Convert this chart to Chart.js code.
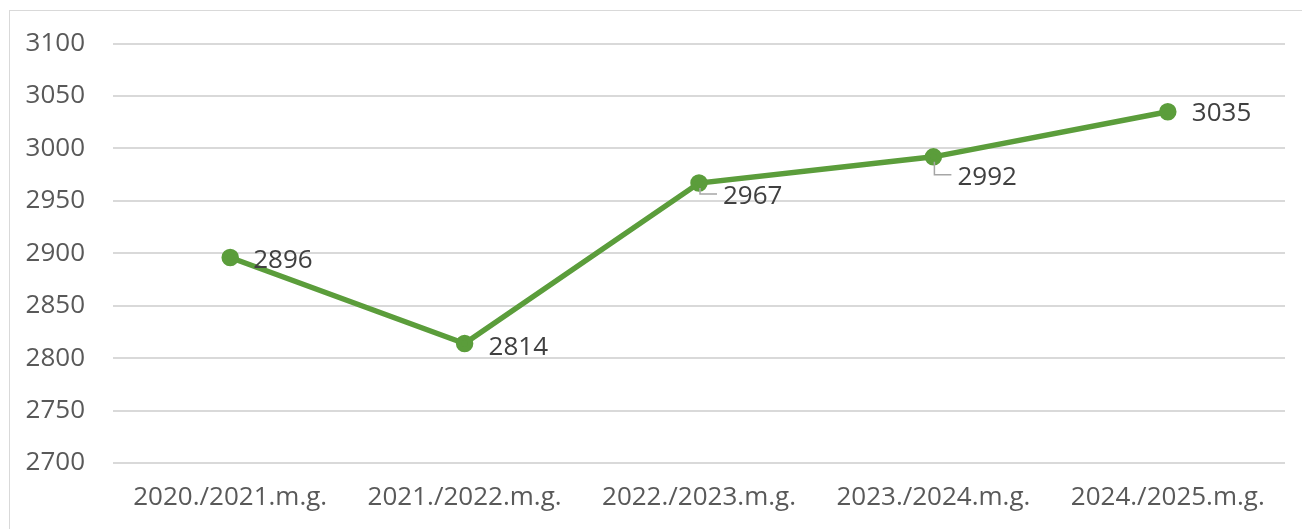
<!DOCTYPE html>
<html>
<head>
<meta charset="utf-8">
<script src="https://cdn.jsdelivr.net/npm/chart.js@4.4.0/dist/chart.umd.min.js"></script>
<style>
  html, body { margin: 0; padding: 0; background: #fff; }
  #wrap { position: absolute; left: 0; top: 0; width: 1302px; height: 529px; }
  #frame { position: absolute; left: 9px; top: 10px; width: 1300px; height: 540px; border: 1px solid #d9d9d9; box-sizing: border-box; }
</style>
</head>
<body>
<div id="wrap">
  <div id="frame"></div>
  <canvas id="chart" width="1302" height="529"></canvas>
</div>
<script>
// categories and values
const years = ['2020./2021.m.g.', '2021./2022.m.g.', '2022./2023.m.g.', '2023./2024.m.g.', '2024./2025.m.g.'];
const pupils = [2896, 2814, 2967, 2992, 3035];
const yTicks = [2700, 2750, 2800, 2850, 2900, 2950, 3000, 3050, 3100];

const green = '#5b9d3b';
const FONT = "'Open Sans', 'Liberation Sans', sans-serif";

// label placement relative to each point (dx, dy, leader line?)
const labelPos = [
  { dx: 23, dy: 3, leader: false },
  { dx: 24, dy: 4, leader: false },
  { dx: 24, dy: 14, leader: true },
  { dx: 24, dy: 21, leader: true },
  { dx: 24, dy: 2, leader: false }
];

const pointLabels = {
  id: 'pointLabels',
  afterDatasetsDraw(chart) {
    const ctx = chart.ctx;
    const meta = chart.getDatasetMeta(0);
    ctx.save();
    ctx.font = '26px ' + FONT;
    ctx.fillStyle = '#404040';
    ctx.textBaseline = 'middle';
    ctx.textAlign = 'left';
    meta.data.forEach((pt, i) => {
      const p = labelPos[i];
      const tx = pt.x + p.dx, ty = pt.y + p.dy;
      if (p.leader) {
        ctx.strokeStyle = '#a6a6a6';
        ctx.lineWidth = 1.5;
        ctx.beginPath();
        ctx.moveTo(pt.x + 1, pt.y + 5);
        ctx.lineTo(pt.x + 1, ty - 3);
        ctx.lineTo(tx - 6, ty - 3);
        ctx.stroke();
      }
      ctx.fillText(String(pupils[i]), tx, ty);
    });
    ctx.restore();
  }
};

new Chart(document.getElementById('chart'), {
  type: 'line',
  data: {
    labels: years,
    datasets: [{
      data: pupils,
      borderColor: green,
      backgroundColor: green,
      pointBackgroundColor: green,
      pointBorderColor: green,
      borderWidth: 5.5,
      pointRadius: 6,
      tension: 0
    }]
  },
  options: {
    responsive: false,
    animation: false,
    layout: { padding: { left: 0, right: 17, top: 39, bottom: 0 } },
    plugins: {
      legend: { display: false },
      tooltip: { enabled: false }
    },
    scales: {
      x: {
        offset: true,
        grid: { display: false, drawTicks: false },
        border: { display: false },
        ticks: { color: '#595959', font: { family: FONT, size: 26 }, padding: 19, maxRotation: 0 },
        afterFit: s => { s.height = 66; }
      },
      y: {
        min: 2700,
        max: 3100,
        afterBuildTicks: s => { s.ticks = yTicks.map(v => ({ value: v })); },
        grid: { color: '#d9d9d9', lineWidth: 2, drawTicks: false },
        border: { display: false },
        ticks: { color: '#595959', font: { family: FONT, size: 26 }, padding: 28, callback: v => String(v) },
        afterFit: s => { s.width = 113; }
      }
    }
  },
  plugins: [pointLabels]
});
</script>
</body>
</html>
